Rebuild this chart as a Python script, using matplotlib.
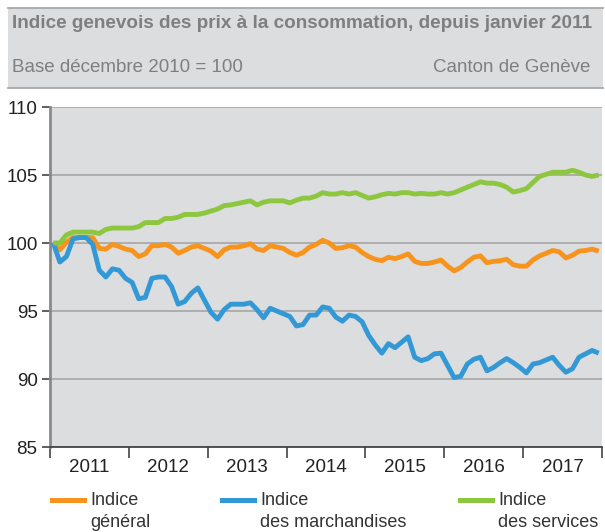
import matplotlib
matplotlib.use("Agg")
import matplotlib.pyplot as plt
from matplotlib.lines import Line2D
from matplotlib.patches import Rectangle
import numpy as np

plt.rcParams['font.family'] = ['Liberation Sans', 'DejaVu Sans']

# indices mensuels, base décembre 2010 = 100 (84 mois, 2011-2017)
general = [100.0, 99.5, 100.05, 100.4, 100.4, 100.4, 100.4, 99.6, 99.55, 99.9, 99.75, 99.55,
           99.45, 99.0, 99.2, 99.8, 99.8, 99.9, 99.7, 99.25, 99.45,
           99.7, 99.8, 99.6, 99.4, 99.0, 99.5, 99.7, 99.7, 99.8, 99.95, 99.55,
           99.45, 99.8, 99.7, 99.6, 99.3, 99.1, 99.3, 99.7, 99.9, 100.2, 100.0,
           99.6, 99.65, 99.8, 99.7, 99.3, 99.0, 98.8, 98.7, 98.95, 98.85,
           99.0, 99.2, 98.65, 98.5, 98.5, 98.6, 98.75, 98.3, 97.95, 98.2,
           98.6, 98.95, 99.05, 98.55, 98.65, 98.7, 98.8, 98.4, 98.3, 98.3, 98.75,
           99.05, 99.25, 99.45, 99.35, 98.9, 99.1, 99.4, 99.45, 99.55, 99.4]
marchandises = [100.0, 98.6, 99.0, 100.3, 100.4, 100.4, 99.9, 98.0, 97.5, 98.1, 98.0, 97.4,
                97.1, 95.9, 96.0, 97.4, 97.5, 97.5, 96.8, 95.5, 95.7,
                96.3, 96.7, 95.8, 94.9, 94.4, 95.1, 95.5, 95.5, 95.5, 95.6, 95.1,
                94.5, 95.2, 95.0, 94.8, 94.6, 93.9, 94.0, 94.7, 94.7, 95.3, 95.2,
                94.55, 94.25, 94.7, 94.6, 94.2, 93.2, 92.5, 91.9, 92.6, 92.3,
                92.7, 93.1, 91.6, 91.35, 91.5, 91.85, 91.9, 91.0, 90.1, 90.2,
                91.1, 91.45, 91.6, 90.6, 90.85, 91.2, 91.5, 91.2, 90.85, 90.45, 91.1,
                91.2, 91.4, 91.6, 91.0, 90.5, 90.75, 91.6, 91.85, 92.1, 91.9]
services = [100.0, 100.0, 100.6, 100.8, 100.8, 100.8, 100.8, 100.7, 101.0, 101.1, 101.1, 101.1,
            101.1, 101.2, 101.5, 101.5, 101.5, 101.8, 101.8, 101.9, 102.1,
            102.1, 102.1, 102.2, 102.35, 102.5, 102.75, 102.8, 102.9, 103.0, 103.1, 102.8,
            103.0, 103.1, 103.1, 103.1, 102.95, 103.15, 103.3, 103.3, 103.45, 103.7, 103.6,
            103.6, 103.7, 103.6, 103.7, 103.5, 103.3, 103.4, 103.55, 103.65, 103.6,
            103.7, 103.7, 103.6, 103.65, 103.6, 103.6, 103.7, 103.6, 103.7, 103.9,
            104.1, 104.3, 104.5, 104.4, 104.4, 104.3, 104.1, 103.75, 103.85, 104.0, 104.45,
            104.9, 105.05, 105.2, 105.2, 105.2, 105.35, 105.2, 105.0, 104.9, 105.0]
years = [2011, 2012, 2013, 2014, 2015, 2016, 2017]
labels = ["Indice\ngénéral", "Indice\ndes marchandises", "Indice\ndes services"]
colors = ["#f7941d", "#3399d6", "#8dc63f"]

x = 2011 + (np.arange(len(general)) + 0.5) / 12

fig = plt.figure(figsize=(6.05, 5.32), dpi=100)
ax = fig.add_axes([50/605, 1-447/532, 552/605, 340/532])
ax.set_facecolor("#dcdddf")

for serie, c in zip([general, marchandises, services], colors):
    ax.plot(x, serie, color=c, lw=3.5, solid_joinstyle="round", solid_capstyle="butt", zorder=3)

ax.set_xlim(2011, 2018)
ax.set_ylim(85, 110)
ax.set_yticks([85, 90, 95, 100, 105, 110])
ax.grid(axis="y", color="#a0a0a0", lw=1.1)
ax.set_axisbelow(True)
ax.set_xticks(range(2011, 2019))
ax.set_xticklabels([])
ax.set_xticks([y + 0.5 for y in years], minor=True)
ax.set_xticklabels([str(y) for y in years], minor=True)
ax.tick_params(axis="x", which="major", length=8, width=1.2, color="#444444")
ax.tick_params(axis="x", which="minor", length=0, pad=9, labelsize=13.5, labelcolor="#222222")
ax.tick_params(axis="y", length=6, width=1.2, color="#444444", labelsize=13.5,
               labelcolor="#222222", pad=3)
for s in ["top", "right"]:
    ax.spines[s].set_visible(False)
ax.spines["left"].set_color("#8a8a8a")
ax.spines["left"].set_linewidth(2)
ax.spines["bottom"].set_color("#444444")
ax.spines["bottom"].set_linewidth(1.3)

# en-tête
fig.patches.append(Rectangle((8/605, 1-88/532), 595/605, 80/532, transform=fig.transFigure,
                             facecolor="#dcdddf", edgecolor="none", zorder=0))
fig.add_artist(Line2D([8/605, 603/605], [1-8/532, 1-8/532], color="#a8a8a8", lw=1.3))
fig.add_artist(Line2D([8/605, 603/605], [1-88/532, 1-88/532], color="#a8a8a8", lw=1.3))
fig.text(12/605, 1-23/532, "Indice genevois des prix à la consommation, depuis janvier 2011",
         fontsize=13.6, fontweight="bold", color="#7f7f7f", va="center", ha="left")
fig.text(12/605, 1-68/532, "Base décembre 2010 = 100", fontsize=13.5, color="#7f7f7f",
         va="center", ha="left")
fig.text(590/605, 1-68/532, "Canton de Genève", fontsize=13.5, color="#7f7f7f",
         va="center", ha="right")

# légende
leg_x = [52, 222, 460]
for lx, lab, c in zip(leg_x, labels, colors):
    fig.add_artist(Line2D([lx/605, (lx+32)/605], [1-500/532, 1-500/532], color=c, lw=3.6))
    fig.text((lx+38)/605, 1-492/532, lab, fontsize=13, color="#333333", va="top",
             ha="left", linespacing=1.35, transform=fig.transFigure)

fig.savefig("out.png", dpi=100)
